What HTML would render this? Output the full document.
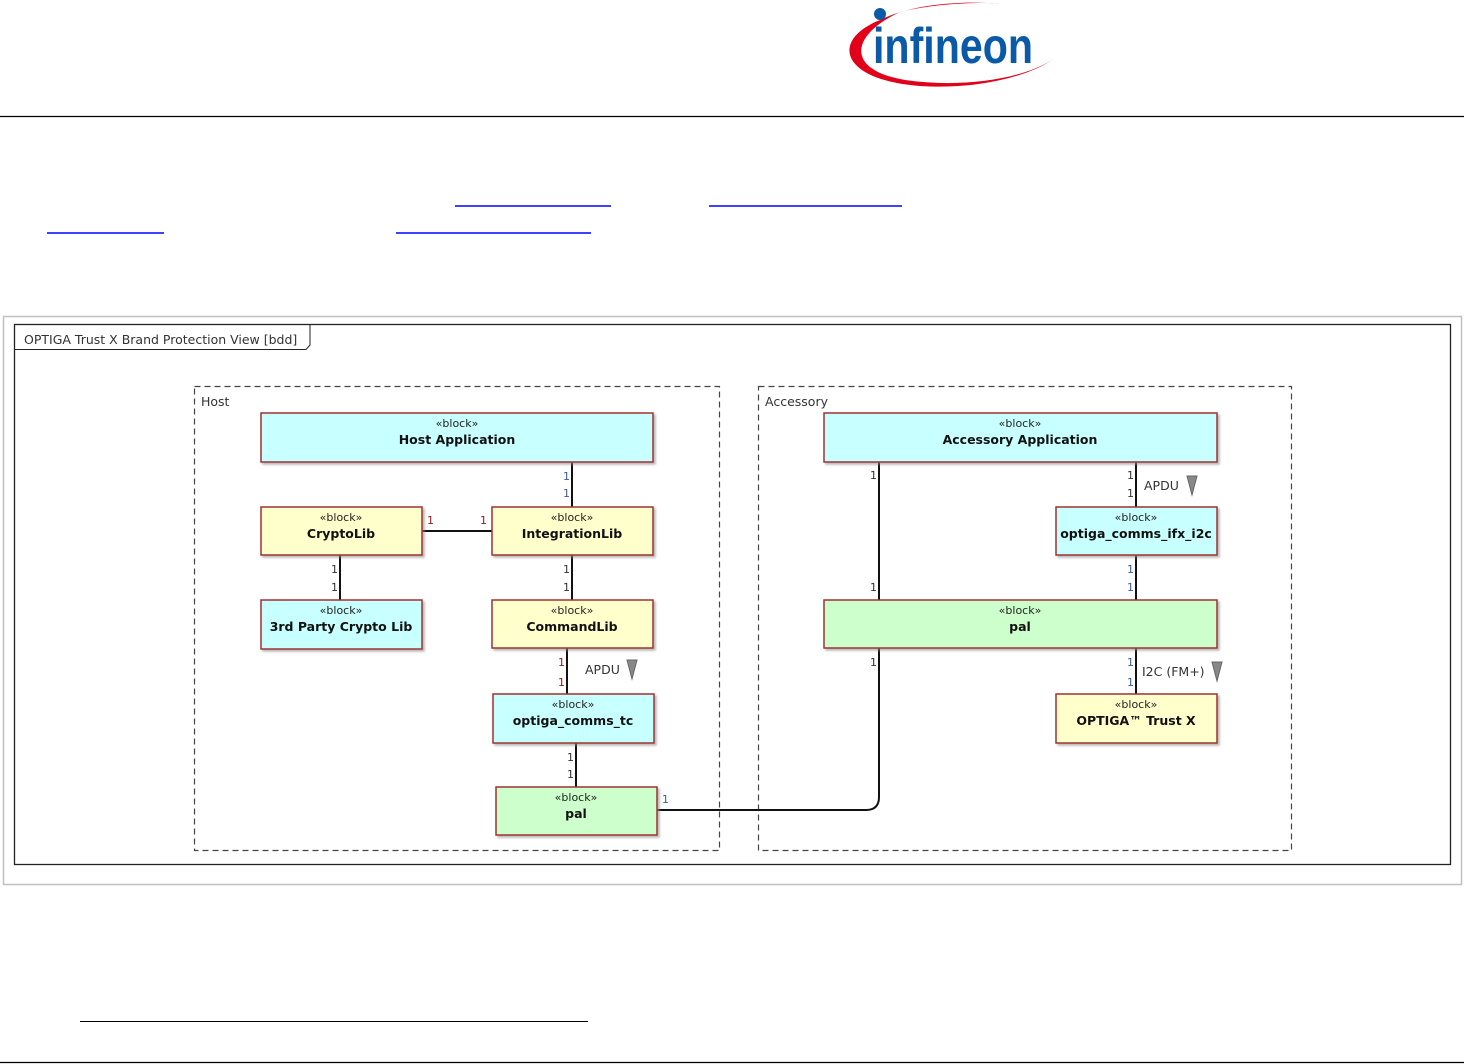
<!DOCTYPE html>
<html><head><meta charset="utf-8"><style>
html,body{margin:0;padding:0;background:#fff;}
svg{display:block;font-family:"DejaVu Sans","Liberation Sans",sans-serif;}
.s{font-size:11px;fill:#222;}
.n{font-size:12.5px;font-weight:bold;fill:#111;}
.m{font-size:11px;fill:#333;}
.mb{font-size:11px;fill:#3b5a9a;}
.mr{font-size:11px;fill:#8b1a1a;}
.l{font-size:12.5px;fill:#333;}
</style></head><body>
<svg width="1464" height="1064" viewBox="0 0 1464 1064" xmlns="http://www.w3.org/2000/svg">
<defs>
<filter id="sh" x="-5%" y="-5%" width="115%" height="130%"><feDropShadow dx="2" dy="2" stdDeviation="1" flood-color="#888" flood-opacity="0.6"/></filter>
</defs>
<path d="M880 20 C 830 40, 840 80, 920 86 C 980 90, 1030 75, 1052 60 C 1020 80, 960 88, 905 80 C 845 70, 850 35, 900 12 C 940 2, 990 2, 1000 4 C 960 0, 910 5, 880 20 Z" fill="#e2001a"/>
<circle cx="880" cy="14" r="6" fill="#0a5aa8"/>
<text x="873" y="63" font-family="Liberation Sans Narrow, Liberation Sans, sans-serif" font-size="50" font-weight="bold" fill="#0a5aa8" textLength="160" lengthAdjust="spacingAndGlyphs">infineon</text>
<line x1="0" y1="116.5" x2="1464" y2="116.5" stroke="#000" stroke-width="1.2"/>
<g stroke="#0000ff" stroke-width="1.5">
<line x1="455" y1="206" x2="611" y2="206"/><line x1="709" y1="206" x2="902" y2="206"/>
<line x1="47" y1="233" x2="164" y2="233"/><line x1="396" y1="233" x2="591" y2="233"/>
</g>
<rect x="3.5" y="316.5" width="1458" height="568" fill="none" stroke="#c0c0c0" stroke-width="1.5"/>
<rect x="14.5" y="324.5" width="1436" height="540" fill="#fff" stroke="#222" stroke-width="1.3"/>
<path d="M14.5 349.5 H306 L310 345 V324.5" fill="none" stroke="#222" stroke-width="1"/>
<text x="24" y="344" class="l" font-size="13">OPTIGA Trust X Brand Protection View [bdd]</text>
<g fill="none" stroke="#444" stroke-width="1.2" stroke-dasharray="6,4">
<rect x="194.5" y="386.5" width="525" height="464"/>
<rect x="758.5" y="386.5" width="533" height="464"/>
</g>
<text x="201" y="406" class="l">Host</text>
<text x="765" y="406" class="l">Accessory</text>
<g stroke="#111" stroke-width="2" fill="none">
<line x1="572" y1="462" x2="572" y2="507"/>
<line x1="572" y1="555" x2="572" y2="600"/>
<line x1="340" y1="555" x2="340" y2="600"/>
<line x1="422" y1="531" x2="492" y2="531"/>
<line x1="567" y1="648" x2="567" y2="694"/>
<line x1="576" y1="743" x2="576" y2="787"/>
<line x1="879" y1="462" x2="879" y2="600"/>
<line x1="1136" y1="462" x2="1136" y2="507"/>
<line x1="1136" y1="555" x2="1136" y2="600"/>
<line x1="1136" y1="648" x2="1136" y2="694"/>
<path d="M657 810 H866 Q879 810 879 797 V648"/>
</g>
<text x="563" y="480" class="mb">1</text><text x="563" y="497" class="mb">1</text>
<text x="427" y="524" class="mr">1</text><text x="480" y="524" class="mr">1</text>
<text x="331" y="573" class="m">1</text><text x="331" y="591" class="m">1</text>
<text x="563" y="573" class="m">1</text><text x="563" y="591" class="m">1</text>
<text x="558" y="666" class="mr">1</text><text x="558" y="686" class="mr">1</text>
<text x="567" y="761" class="m">1</text><text x="567" y="778" class="m">1</text>
<text x="662" y="803" class="mb">1</text>
<text x="870" y="479" class="m">1</text><text x="870" y="591" class="m">1</text>
<text x="870" y="666" class="m">1</text>
<text x="1127" y="479" class="m">1</text><text x="1127" y="497" class="m">1</text>
<text x="1127" y="573" class="mb">1</text><text x="1127" y="591" class="mb">1</text>
<text x="1127" y="666" class="mb">1</text><text x="1127" y="686" class="mb">1</text>
<text x="585" y="674" class="l">APDU</text>
<path d="M627 660 L637 660 L632 679 Z" fill="#888" stroke="#666"/>
<text x="1144" y="490" class="l">APDU</text>
<path d="M1187 476 L1197 476 L1192 495 Z" fill="#888" stroke="#666"/>
<text x="1142" y="676" class="l">I2C (FM+)</text>
<path d="M1212 662 L1222 662 L1217 681 Z" fill="#888" stroke="#666"/>
<g stroke="#a03030" stroke-width="1.5" filter="url(#sh)">
<rect x="261" y="413" width="392" height="49" fill="#c8ffff"/>
<rect x="261" y="507" width="161" height="48" fill="#ffffcc"/>
<rect x="492" y="507" width="161" height="48" fill="#ffffcc"/>
<rect x="261" y="600" width="161" height="49" fill="#c8ffff"/>
<rect x="492" y="600" width="161" height="48" fill="#ffffcc"/>
<rect x="493" y="694" width="161" height="49" fill="#c8ffff"/>
<rect x="496" y="787" width="161" height="48" fill="#ccffcc"/>
<rect x="824" y="413" width="393" height="49" fill="#c8ffff"/>
<rect x="1056" y="507" width="161" height="48" fill="#c8ffff"/>
<rect x="824" y="600" width="393" height="48" fill="#ccffcc"/>
<rect x="1056" y="694" width="161" height="49" fill="#ffffcc"/>
</g>
<g text-anchor="middle">
<text x="457" y="427" class="s">«block»</text><text x="457" y="444" class="n">Host Application</text>
<text x="341" y="521" class="s">«block»</text><text x="341" y="538" class="n">CryptoLib</text>
<text x="572" y="521" class="s">«block»</text><text x="572" y="538" class="n">IntegrationLib</text>
<text x="341" y="614" class="s">«block»</text><text x="341" y="631" class="n">3rd Party Crypto Lib</text>
<text x="572" y="614" class="s">«block»</text><text x="572" y="631" class="n">CommandLib</text>
<text x="573" y="708" class="s">«block»</text><text x="573" y="725" class="n">optiga_comms_tc</text>
<text x="576" y="801" class="s">«block»</text><text x="576" y="818" class="n">pal</text>
<text x="1020" y="427" class="s">«block»</text><text x="1020" y="444" class="n">Accessory Application</text>
<text x="1136" y="521" class="s">«block»</text><text x="1136" y="538" class="n">optiga_comms_ifx_i2c</text>
<text x="1020" y="614" class="s">«block»</text><text x="1020" y="631" class="n">pal</text>
<text x="1136" y="708" class="s">«block»</text><text x="1136" y="725" class="n">OPTIGA™ Trust X</text>
</g>
<line x1="80" y1="1021.5" x2="588" y2="1021.5" stroke="#000" stroke-width="1"/>
<line x1="0" y1="1062.5" x2="1464" y2="1062.5" stroke="#000" stroke-width="1.2"/>
</svg>
</body></html>
